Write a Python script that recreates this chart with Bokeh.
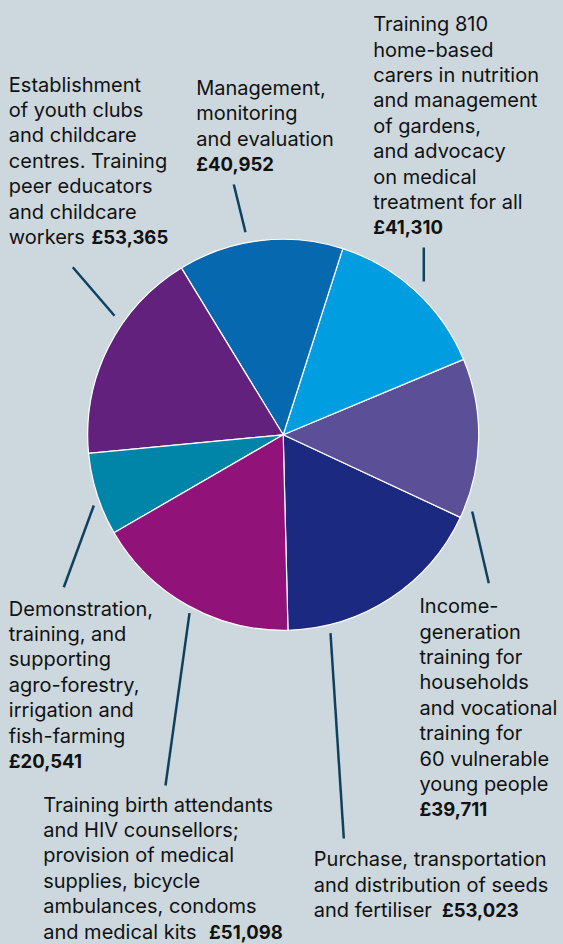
import math
from bokeh.plotting import figure
from bokeh.models import ColumnDataSource, Range1d, GlobalInlineStyleSheet
from bokeh.core.properties import value
from bokeh.embed import file_html
from bokeh.resources import INLINE

# ---------------- data (anticlockwise from the bottom of the pie) ----------------
categories = [
    "Purchase, transportation\nand distribution of seeds\nand fertiliser",
    "Income-\ngeneration\ntraining for\nhouseholds\nand vocational\ntraining for\n60 vulnerable\nyoung people",
    "Training 810\nhome-based\ncarers in nutrition\nand management\nof gardens,\nand advocacy\non medical\ntreatment for all",
    "Management,\nmonitoring\nand evaluation",
    "Establishment\nof youth clubs\nand childcare\ncentres. Training\npeer educators\nand childcare\nworkers",
    "Demonstration,\ntraining, and\nsupporting\nagro-forestry,\nirrigation and\nfish-farming",
    "Training birth attendants\nand HIV counsellors;\nprovision of medical\nsupplies, bicycle\nambulances, condoms\nand medical kits",
]
amounts = [53023, 39711, 41310, 40952, 53365, 20541, 51098]
colors = ["#1b2981", "#5b4f98", "#009de0", "#0668ae", "#62217c", "#0085a8", "#911379"]

# ---------------- layout (page pixels, y measured from top) ----------------
W, H = 563, 944
BG = "#cdd8de"
CX, CY, R = 282.7, 434.3, 195.5
START_DEG = -88.6
PITCH = 25.4
TEXT_DY = -7.0          # correction for how the svg backend places the baseline
FONT = "Inter"
FSIZE = "20px"
BSIZE = "18.5px"
# x of text block, first baseline, right edge of inline amount (None -> own line)
label_pos = [
    (313.3, 865.7, 518.3),
    (419.0, 612.6, None),
    (372.7, 30.7, None),
    (195.7, 94.5, None),
    (8.3, 91.0, 167.7),
    (8.3, 615.0, None),
    (42.7, 811.0, 282.3),
]
leaders = [
    ((330.0, 632.7), (343.3, 838.0)),
    ((471.7, 511.0), (488.3, 582.7)),
    ((423.3, 247.0), (423.3, 281.0)),
    ((233.3, 184.0), (245.0, 231.7)),
    ((72.3, 266.7), (114.0, 315.3)),
    ((93.3, 505.0), (63.3, 586.7)),
    ((189.0, 612.7), (165.0, 785.0)),
]


def fy(py):
    return H - py


p = figure(width=W, height=H, x_range=Range1d(0, W), y_range=Range1d(0, H),
           output_backend="svg", toolbar_location=None,
           x_axis_type=None, y_axis_type=None,
           min_border=0, min_border_left=0, min_border_right=0,
           min_border_top=0, min_border_bottom=0,
           background_fill_color=BG, border_fill_color=BG, outline_line_color=None)
p.grid.visible = False
p.stylesheets = [GlobalInlineStyleSheet(css="html, body { margin: 0; padding: 0; background: %s; overflow: hidden; }" % BG)]

# ---------------- pie ----------------
total = float(sum(amounts))
starts, ends = [], []
acc = 0.0
for v in amounts:
    a0 = math.radians(START_DEG) + 2 * math.pi * acc / total
    acc += v
    a1 = math.radians(START_DEG) + 2 * math.pi * acc / total
    starts.append(a0)
    ends.append(a1)

pie_src = ColumnDataSource(dict(start=starts, end=ends, color=colors,
                                name=[c.replace("\n", " ") for c in categories], amount=amounts))
p.wedge(x=CX, y=fy(CY), radius=R, start_angle="start", end_angle="end",
        fill_color="color", line_color="white", line_width=1.2, source=pie_src)

# ---------------- leader lines ----------------
p.segment(x0=[a[0] for a, b in leaders], y0=[fy(a[1]) for a, b in leaders],
          x1=[b[0] for a, b in leaders], y1=[fy(b[1]) for a, b in leaders],
          line_color="#10405f", line_width=2.5)

# ---------------- labels ----------------
reg = dict(x=[], y=[], text=[])
bold_l = dict(x=[], y=[], text=[])
bold_r = dict(x=[], y=[], text=[])
for cat, amt, (lx, base, rx) in zip(categories, amounts, label_pos):
    lines = cat.split("\n")
    amt_txt = "£{:,}".format(amt)
    base = base + TEXT_DY
    for i, ln in enumerate(lines):
        reg["x"].append(lx)
        reg["y"].append(fy(base + i * PITCH))
        reg["text"].append(ln)
    if rx is None:
        bold_l["x"].append(lx)
        bold_l["y"].append(fy(base + len(lines) * PITCH))
        bold_l["text"].append(amt_txt)
    else:
        bold_r["x"].append(rx)
        bold_r["y"].append(fy(base + (len(lines) - 1) * PITCH))
        bold_r["text"].append(amt_txt)

common = dict(text_font=value(FONT), text_color="#111111", text_baseline="alphabetic")
p.text(x="x", y="y", text="text", source=ColumnDataSource(reg),
       text_align="left", text_font_style="normal", text_font_size=FSIZE, **common)
p.text(x="x", y="y", text="text", source=ColumnDataSource(bold_l),
       text_align="left", text_font_style="bold", text_font_size=BSIZE, **common)
p.text(x="x", y="y", text="text", source=ColumnDataSource(bold_r),
       text_align="right", text_font_style="bold", text_font_size=BSIZE, **common)

open("out.html", "w").write(file_html(p, INLINE))
